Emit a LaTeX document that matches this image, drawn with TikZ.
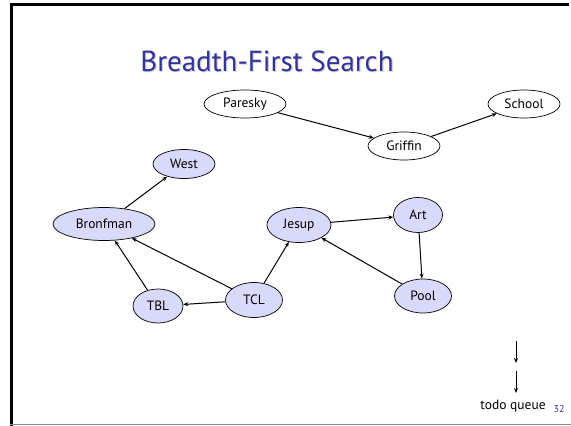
\documentclass[tikz,border=0pt]{standalone}
\usepackage{fontspec}
\setmainfont{PT Sans}
\usetikzlibrary{arrows.meta,shapes.geometric}
\definecolor{titleblue}{RGB}{51,51,153}
\definecolor{visited}{RGB}{217,217,250}
\definecolor{framegray}{RGB}{140,140,140}
\begin{document}
\begin{tikzpicture}[x=1pt,y=-1pt,
  vertex/.style={ellipse,draw=black,line width=0.7pt,inner sep=0pt,
    font=\fontsize{13.5}{15}\selectfont},
  seen/.style={vertex,fill=visited},
  edge/.style={line width=1pt,-{Stealth[length=5pt,width=4pt]}}]
\useasboundingbox (0,0) rectangle (571,426);
% slide frame
\draw[line width=2.5pt,line cap=rect] (11,4.5) -- (568,4.5);
\draw[line width=3pt] (11,4.5) -- (11,426);
\draw[framegray,line width=1.5pt] (10,424.5) -- (571,424.5);
% title with soft shadow
\node[text=black!18,font=\fontsize{29}{34}\selectfont] at (268.2,62.2) {Breadth-First Search};
\node (title) [text=titleblue,font=\fontsize{29}{34}\selectfont] at (267,61) {Breadth-First Search};
% graph
\node (paresky) [vertex,minimum width=82pt,minimum height=28pt] at (245,104) {Paresky};
\node (school) [vertex,minimum width=72pt,minimum height=28pt] at (524,104) {School};
\node (griffin) [vertex,minimum width=72pt,minimum height=28pt] at (404,146) {Griffin};
\node (west) [seen,minimum width=62pt,minimum height=29pt] at (184,164) {West};
\node (bronfman) [seen,minimum width=102pt,minimum height=33pt] at (104,224) {Bronfman};
\node (jesup) [seen,minimum width=64pt,minimum height=35pt] at (299,225) {Jesup};
\node (art) [seen,minimum width=49pt,minimum height=35pt] at (418,215) {Art};
\node (pool) [seen,minimum width=57pt,minimum height=34pt] at (423,296) {Pool};
\node (tbl) [seen,minimum width=50pt,minimum height=34pt] at (158,306) {TBL};
\node (tcl) [seen,minimum width=57pt,minimum height=35pt] at (254,300) {TCL};
\draw[edge] (paresky) -- (griffin);
\draw[edge] (griffin) -- (school);
\draw[edge] (bronfman) -- (west);
\draw[edge] (tbl) -- (bronfman);
\draw[edge] (tcl) -- (bronfman);
\draw[edge] (tcl) -- (tbl);
\draw[edge] (tcl) -- (jesup);
\draw[edge] (jesup) -- (art);
\draw[edge] (art) -- (pool);
\draw[edge] (pool) -- (jesup);
% queue
\coordinate (qa) at (516,341);
\coordinate (qb) at (516,363);
\coordinate (qc) at (516,371);
\coordinate (qd) at (516,393);
\draw[edge] (qa) -- (qb);
\draw[edge] (qc) -- (qd);
\node (queue) [font=\fontsize{13.5}{15}\selectfont] at (513,406) {todo queue};
\node (pagenum) [text=titleblue,font=\fontsize{10}{11}\selectfont] at (559,409) {32};
\end{tikzpicture}
\end{document}
